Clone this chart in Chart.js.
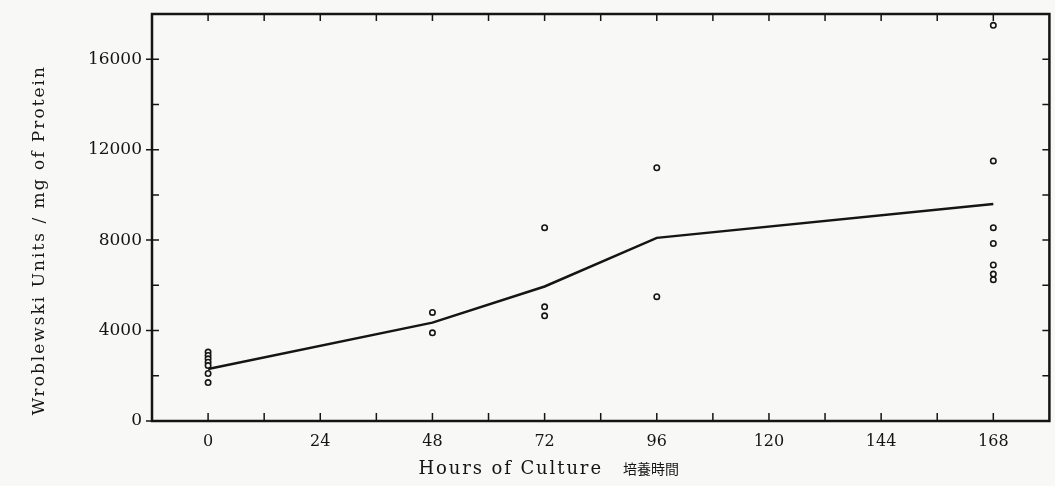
<!DOCTYPE html>
<html>
<head>
<meta charset="utf-8">
<script src="https://cdn.jsdelivr.net/npm/chart.js@4"></script>
<style>
    html, body { margin: 0; padding: 0; background: #f8f8f6; }
    #wrap { width: 1055px; height: 486px; position: relative; }
</style>
</head>
<body>
<div id="wrap"><canvas id="wroblewskiChart"></canvas></div>
<script>
// mean curve
const meanHours = [0, 48, 72, 96, 168];
const meanValues = [2300, 4350, 5950, 8100, 9600];

// individual observations
const obsHours = [0, 0, 0, 0, 0, 0, 0, 48, 48, 72, 72, 72, 96, 96, 168, 168, 168, 168, 168, 168, 168];
const obsValues = [3050, 2900, 2750, 2600, 2450, 2100, 1700, 4800, 3900, 8550, 5050, 4650, 11200, 5500, 17500, 11500, 8550, 7850, 6900, 6500, 6250];

// axes
const xTickValues = [0, 24, 48, 72, 96, 120, 144, 168];
const xMinorValues = [12, 36, 60, 84, 108, 132, 156];
const yTickValues = [0, 4000, 8000, 12000, 16000];
const yMinorValues = [2000, 6000, 10000, 14000];

const xTitle = 'Hours of Culture';
const xTitleJa = '培養時間';
const yTitle = 'Wroblewski Units / mg of Protein';

const ink = '#151515';
const serif = "'DejaVu Serif', 'Liberation Serif', serif";

document.addEventListener('DOMContentLoaded', function() {
    initChart();
});

/**
 * frame, inward tick marks and axis titles like the printed figure
 */
const frameTicks = {
    id: 'frameTicks',
    afterDraw(chart) {
        const ctx = chart.ctx;
        const a = chart.chartArea;
        const x = chart.scales.x;
        const y = chart.scales.y;
        ctx.save();
        ctx.strokeStyle = ink;
        ctx.lineWidth = 2.5;
        ctx.strokeRect(a.left, a.top, a.right - a.left, a.bottom - a.top);
        ctx.lineWidth = 1.5;
        ctx.beginPath();
        xTickValues.concat(xMinorValues).forEach(function(v) {
            const px = x.getPixelForValue(v);
            ctx.moveTo(px, a.bottom);
            ctx.lineTo(px, a.bottom - 8);
            ctx.moveTo(px, a.top);
            ctx.lineTo(px, a.top + 7);
        });
        yTickValues.forEach(function(v) {
            const py = y.getPixelForValue(v);
            ctx.moveTo(a.left - 6, py);
            ctx.lineTo(a.left + 7, py);
            ctx.moveTo(a.right, py);
            ctx.lineTo(a.right - 7, py);
        });
        yMinorValues.forEach(function(v) {
            const py = y.getPixelForValue(v);
            ctx.moveTo(a.left, py);
            ctx.lineTo(a.left + 7, py);
            ctx.moveTo(a.right, py);
            ctx.lineTo(a.right - 7, py);
        });
        ctx.stroke();

        // x title, set a bit left of centre as in the print
        ctx.fillStyle = ink;
        ctx.textBaseline = 'alphabetic';
        ctx.textAlign = 'left';
        ctx.font = '18px ' + serif;
        ctx.letterSpacing = '1.9px';
        const tx = x.getPixelForValue(45);
        ctx.fillText(xTitle, tx, 474);
        const w = ctx.measureText(xTitle).width;
        ctx.font = "14px 'Noto Sans CJK JP', sans-serif";
        ctx.letterSpacing = '0px';
        ctx.fillText(xTitleJa, tx + w + 20, 474);

        // y title
        ctx.translate(40, y.getPixelForValue(8000));
        ctx.rotate(-Math.PI / 2);
        ctx.textAlign = 'center';
        ctx.textBaseline = 'middle';
        ctx.font = '17px ' + serif;
        ctx.letterSpacing = '2px';
        ctx.fillText(yTitle, 0, 0);
        ctx.restore();
    }
};

function initChart() {
    const ctx = document.getElementById('wroblewskiChart');

    new Chart(ctx, {
        type: 'scatter',
        data: {
            datasets: [{
                label: 'Mean',
                data: meanHours.map(function(h, i) { return { x: h, y: meanValues[i] }; }),
                showLine: true,
                borderColor: ink,
                borderWidth: 2.5,
                pointRadius: 0,
                tension: 0
            }, {
                label: 'Observed',
                data: obsHours.map(function(h, i) { return { x: h, y: obsValues[i] }; }),
                pointStyle: 'circle',
                pointRadius: 2.7,
                borderWidth: 1.6,
                borderColor: ink,
                backgroundColor: '#f8f8f6'
            }]
        },
        options: {
            responsive: true,
            maintainAspectRatio: false,
            animation: false,
            layout: {
                padding: { top: 14, right: 0, left: 0, bottom: 0 }
            },
            plugins: {
                legend: { display: false },
                tooltip: { enabled: false }
            },
            scales: {
                x: {
                    type: 'linear',
                    min: -12,
                    max: 180,
                    afterBuildTicks: function(scale) {
                        scale.ticks = xTickValues.map(function(v) { return { value: v }; });
                    },
                    afterFit: function(scale) {
                        scale.height = 65;
                        scale.paddingLeft = 0;
                        scale.paddingRight = 0;
                    },
                    grid: { display: false },
                    border: { display: false },
                    ticks: {
                        color: ink,
                        padding: 3,
                        maxRotation: 0,
                        font: { family: serif, size: 16 }
                    }
                },
                y: {
                    min: 0,
                    max: 18000,
                    afterBuildTicks: function(scale) {
                        scale.ticks = yTickValues.map(function(v) { return { value: v }; });
                    },
                    afterFit: function(scale) {
                        scale.width = 152;
                        scale.paddingTop = 0;
                        scale.paddingBottom = 0;
                    },
                    grid: { display: false },
                    border: { display: false },
                    ticks: {
                        color: ink,
                        padding: 2,
                        font: { family: serif, size: 17 },
                        callback: function(v) { return String(v); }
                    }
                }
            }
        },
        plugins: [frameTicks]
    });
}
</script>
</body>
</html>
